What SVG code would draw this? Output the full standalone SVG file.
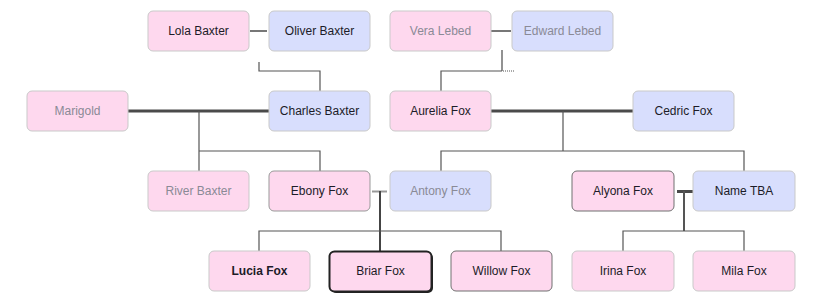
<svg xmlns="http://www.w3.org/2000/svg" width="813" height="307" viewBox="0 0 813 307">
<style>
.box rect{stroke:#c9c9c9;stroke-width:1}
.f rect{fill:#fed8ee}
.m rect{fill:#d8defd}
.dk rect{stroke:#707070}
text{font-family:"Liberation Sans",Arial,sans-serif;font-size:12px;text-anchor:middle;fill:#1c1c28}
.g text{fill:#8a8a96}
.c path{fill:none;stroke:#555;stroke-width:1.2}
.c .sp{stroke:#4a4a4a;stroke-width:3}
.c .sh{stroke:#777;stroke-width:2}
</style>
<rect width="813" height="307" fill="#fff"/>
<g class="c" id="connectors">
<path class="sh" d="M250 31H267"/>
<path d="M259 62V71H320V91"/>
<path class="sh" d="M491 31H511"/>
<path class="sh" d="M502 50V71" style="stroke-width:1.6"/>
<path d="M502 71H441V91"/>
<path d="M503 71H515" stroke-dasharray="1 1"/>
<path class="sp" d="M128 111H269"/>
<path d="M199 111V171M199 151H320V171"/>
<path class="sp" d="M491 111H633"/>
<path d="M563 111V151M441 171V151H744V171"/>
<path class="sh" d="M372 191.5H387" style="stroke:#999"/>
<path class="sh" d="M380 191V251" style="stroke:#444"/>
<path d="M259 251V231H501V251"/>
<path class="sp" d="M677 191.5H693"/>
<path class="sh" d="M684 191V231" style="stroke:#555"/>
<path d="M623 251V231H744V251"/>
</g>
<g id="lola" class="box f"><rect x="148" y="11" width="101" height="40" rx="5"/><text x="198.5" y="35">Lola Baxter</text></g>
<g id="oliver" class="box m"><rect x="269" y="11" width="101" height="40" rx="5"/><text x="319.5" y="35">Oliver Baxter</text></g>
<g id="vera" class="box f g"><rect x="390" y="11" width="101" height="40" rx="5"/><text x="440.5" y="35">Vera Lebed</text></g>
<g id="edward" class="box m g"><rect x="512" y="11" width="101" height="40" rx="5"/><text x="562.5" y="35">Edward Lebed</text></g>
<g id="marigold" class="box f g"><rect x="27" y="91" width="101" height="40" rx="5"/><text x="77.5" y="115">Marigold</text></g>
<g id="charles" class="box m"><rect x="269" y="91" width="101" height="40" rx="5"/><text x="319.5" y="115">Charles Baxter</text></g>
<g id="aurelia" class="box f"><rect x="390" y="91" width="101" height="40" rx="5"/><text x="440.5" y="115">Aurelia Fox</text></g>
<g id="cedric" class="box m"><rect x="633" y="91" width="101" height="40" rx="5"/><text x="683.5" y="115">Cedric Fox</text></g>
<g id="river" class="box f g"><rect x="148" y="171" width="101" height="40" rx="5"/><text x="198.5" y="195">River Baxter</text></g>
<g id="ebony" class="box f"><rect x="269" y="171" width="101" height="40" rx="5" style="stroke:#999"/><text x="319.5" y="195">Ebony Fox</text></g>
<g id="antony" class="box m g"><rect x="390" y="171" width="101" height="40" rx="5"/><text x="440.5" y="195">Antony Fox</text></g>
<g id="alyona" class="box f dk"><rect x="572" y="171" width="102" height="40" rx="5"/><text x="623" y="195">Alyona Fox</text></g>
<g id="nametba" class="box m"><rect x="693" y="171" width="102" height="40" rx="5"/><text x="744" y="195">Name TBA</text></g>
<g id="lucia" class="box f"><rect x="209" y="251" width="101" height="40" rx="5"/><text x="259.5" y="275" font-weight="bold">Lucia Fox</text></g>
<g id="briar" class="box f"><rect x="331" y="253" width="102" height="40" rx="5" fill="#333" style="fill:#222;stroke:none"/><rect x="329.5" y="251.5" width="102" height="40" rx="5" style="stroke:#222;stroke-width:2"/><text x="380.5" y="275">Briar Fox</text></g>
<g id="willow" class="box f dk"><rect x="451" y="251" width="101" height="40" rx="5"/><text x="501.5" y="275">Willow Fox</text></g>
<g id="irina" class="box f"><rect x="572" y="251" width="102" height="40" rx="5"/><text x="623" y="275">Irina Fox</text></g>
<g id="mila" class="box f"><rect x="693" y="251" width="102" height="40" rx="5"/><text x="744" y="275">Mila Fox</text></g>
</svg>
